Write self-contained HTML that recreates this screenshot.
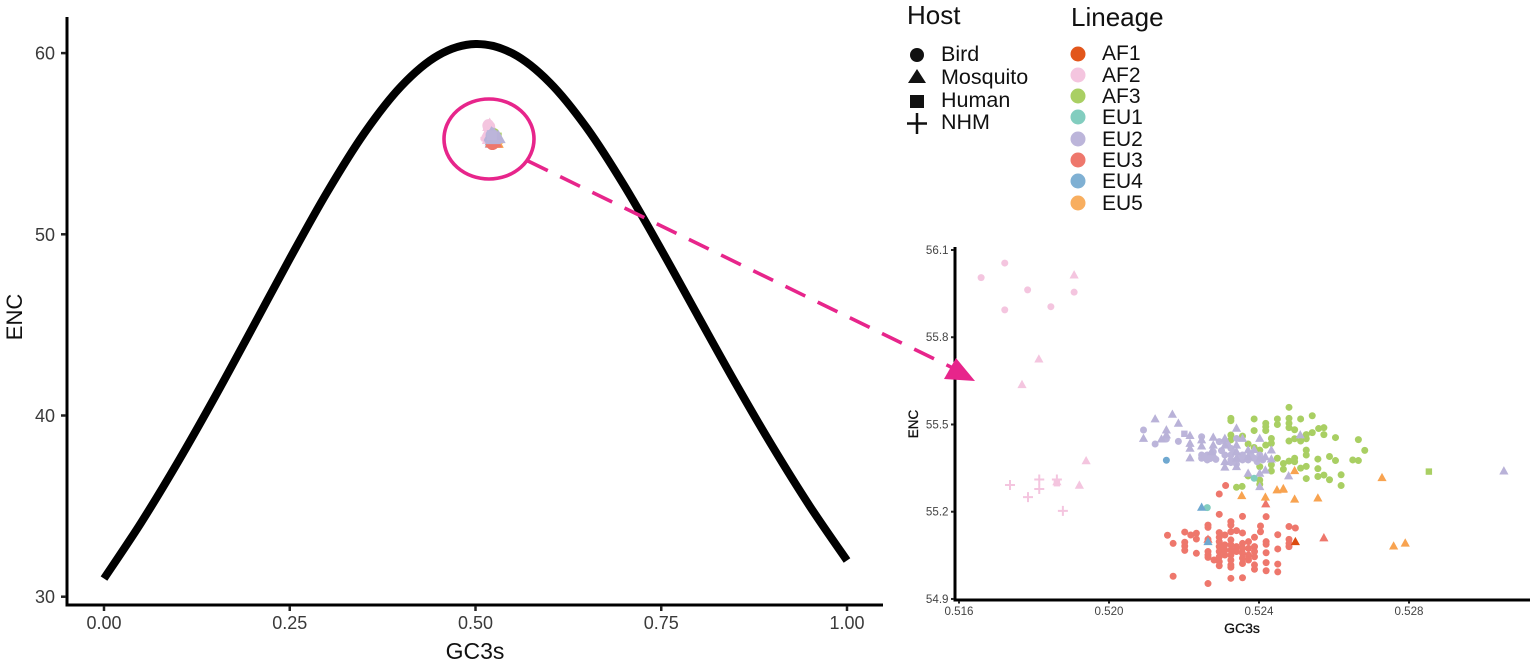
<!DOCTYPE html>
<html lang="en">
<head>
<meta charset="utf-8">
<title>ENC vs GC3s</title>
<style>
html,body{margin:0;padding:0;background:#fff;width:1535px;height:666px;overflow:hidden}
svg{display:block;font-family:"Liberation Sans",sans-serif}
</style>
</head>
<body>
<svg id="chart" width="1535" height="666" viewBox="0 0 1535 666" xmlns="http://www.w3.org/2000/svg">
  <rect width="1535" height="666" fill="#fff"/>
  <g id="main-plot"></g>
  <g id="inset-plot"></g>

  <g>
    <ellipse cx="489" cy="139" rx="45" ry="40" fill="none" stroke="#E7258B" stroke-width="3.6"/>
    <line x1="528" y1="161" x2="955" y2="369" stroke="#E7258B" stroke-width="3.6" stroke-dasharray="22 13.8"/>
    <polygon points="956,358 975,381 944,379" fill="#E7258B"/>
  </g>

  <g fill="#111">
    <text x="907" y="24" font-size="26">Host</text>
    <circle cx="917" cy="55" r="7"/>
    <polygon points="917,69 926,83 908,83"/>
    <rect x="910" y="95" width="14" height="13"/>
    <path d="M907 123.500H927M917 113V134" stroke="#111" stroke-width="2.500" fill="none"/>
    <text x="941" y="61" font-size="21.500">Bird</text>
    <text x="941" y="84" font-size="21.500">Mosquito</text>
    <text x="941" y="107" font-size="21.500">Human</text>
    <text x="941" y="129" font-size="21.500">NHM</text>
  </g>

  <g fill="#111" font-size="21">
    <text x="1071" y="26" font-size="26">Lineage</text>
    <circle cx="1078" cy="54" r="7.500" fill="#E2561B"/>
    <circle cx="1078" cy="75" r="7.500" fill="#F4C5DF"/>
    <circle cx="1078" cy="96" r="7.500" fill="#A9CF63"/>
    <circle cx="1078" cy="117" r="7.500" fill="#82CDBF"/>
    <circle cx="1078" cy="139" r="7.500" fill="#BCB5DA"/>
    <circle cx="1078" cy="160" r="7.500" fill="#EE776C"/>
    <circle cx="1078" cy="181" r="7.500" fill="#7FB0D3"/>
    <circle cx="1078" cy="203" r="7.500" fill="#F8AE5F"/>
    <text x="1102" y="60">AF1</text>
    <text x="1102" y="82">AF2</text>
    <text x="1102" y="103">AF3</text>
    <text x="1102" y="124">EU1</text>
    <text x="1102" y="146">EU2</text>
    <text x="1102" y="167">EU3</text>
    <text x="1102" y="188">EU4</text>
    <text x="1102" y="210">EU5</text>
  </g>
</svg>

<script>
// Main curve values
const curveGc3 = [0,0.05,0.10,0.15,0.20,0.25,0.30,0.35,0.40,0.45,0.50,0.55,0.60,0.65,0.70,0.75,0.80,0.85,0.90,0.95,1.00];
const curveEnc = [31,34.09,37.47,41.08,44.85,48.65,52.30,55.56,58.17,59.88,60.50,59.98,58.37,55.86,52.70,49.15,45.45,41.78,38.27,34.99,32];

// Tick labels
const mainXTicks = [0,0.25,0.5,0.75,1];
const mainYTicks = [30,40,50,60];
const insetXTicks = [0.516,0.520,0.524,0.528];
const insetYTicks = [54.9,55.2,55.5,55.8,56.1];

// Scatter values: [GC3s, ENC]
const af2Bird = [[.51659,56.005],[.51722,56.055],[.51783,55.963],[.51907,55.955],[.51722,55.894],[.51845,55.905]];
const af2Mosquito = [[.51907,56.014],[.51813,55.725],[.51768,55.637],[.51861,55.303],[.51939,55.375],[.51921,55.291]];
const af2Human = [[.51861,55.298]];
const af2Nhm = [[.51736,55.292],[.51814,55.311],[.51814,55.278],[.51784,55.250],[.51861,55.311],[.51877,55.203]];

const eu3Bird = [[.52311,55.290],[.52294,55.261],[.52294,55.191],[.52356,55.184],[.52419,55.183],[.52264,55.154],[.52264,55.146],[.52325,55.166],[.52325,55.154],[.52404,55.151],[.52480,55.149],[.52497,55.144],[.52156,55.119],[.52202,55.130],[.52218,55.120],[.52233,55.126],[.52233,55.106],[.52171,55.091],[.52202,55.095],[.52202,55.082],[.52202,55.067],[.52233,55.057],[.52264,55.105],[.52264,55.063],[.52264,55.051],[.52264,55.043],[.52280,55.034],[.52294,55.128],[.52294,55.112],[.52294,55.097],[.52294,55.080],[.52294,55.063],[.52294,55.045],[.52294,55.028],[.52294,55.014],[.52309,55.120],[.52309,55.086],[.52309,55.068],[.52309,55.051],[.52325,55.131],[.52325,55.103],[.52325,55.086],[.52325,55.068],[.52325,55.051],[.52325,55.034],[.52325,55.017],[.52325,55.009],[.52340,55.135],[.52340,55.080],[.52340,55.063],[.52356,55.127],[.52356,55.091],[.52356,55.074],[.52356,55.057],[.52356,55.040],[.52356,55.022],[.52372,55.097],[.52372,55.074],[.52372,55.051],[.52372,55.034],[.52388,55.112],[.52388,55.080],[.52388,55.063],[.52388,55.045],[.52388,55.017],[.52388,55.002],[.52404,55.131],[.52419,55.097],[.52419,55.088],[.52419,55.059],[.52419,55.025],[.52419,54.997],[.52450,55.121],[.52450,55.072],[.52450,55.020],[.52450,54.993],[.52480,55.105],[.52480,55.091],[.52480,55.080],[.52171,54.978],[.52264,54.953],[.52325,54.971],[.52356,54.973]];
const eu3Mosquito = [[.52573,55.110],[.52418,55.227],[.52264,55.105]];

const af3Bird = [[.52325,55.521],[.52325,55.513],[.52387,55.519],[.52387,55.479],[.52418,55.504],[.52418,55.492],[.52418,55.479],[.52449,55.519],[.52449,55.500],[.52480,55.559],[.52480,55.521],[.52480,55.504],[.52480,55.489],[.52495,55.482],[.52511,55.519],[.52542,55.530],[.52559,55.486],[.52573,55.489],[.52573,55.465],[.52542,55.472],[.52526,55.465],[.52526,55.451],[.52511,55.443],[.52495,55.451],[.52480,55.443],[.52604,55.455],[.52665,55.448],[.52325,55.464],[.52325,55.447],[.52356,55.460],[.52371,55.433],[.52387,55.421],[.52402,55.412],[.52418,55.429],[.52433,55.452],[.52433,55.435],[.52402,55.355],[.52433,55.361],[.52433,55.340],[.52449,55.384],[.52465,55.366],[.52465,55.346],[.52480,55.374],[.52495,55.384],[.52495,55.372],[.52511,55.350],[.52526,55.356],[.52526,55.412],[.52526,55.395],[.52557,55.381],[.52557,55.348],[.52588,55.390],[.52604,55.376],[.52650,55.378],[.52665,55.376],[.52619,55.327],[.52619,55.290],[.52588,55.310],[.52573,55.326],[.52557,55.321],[.52526,55.314],[.52402,55.309],[.52402,55.294],[.52340,55.284],[.52355,55.287],[.52371,55.323],[.52682,55.411]];
const af3Human = [[.52853,55.338]];

const eu5Mosquito = [[.52728,55.317],[.52759,55.082],[.52790,55.092],[.52557,55.247],[.52495,55.243],[.52464,55.277],[.52495,55.341],[.52448,55.275],[.52465,55.279],[.52354,55.255],[.52417,55.250]];

const eu2Bird = [[.52092,55.481],[.52123,55.433],[.52153,55.450],[.52185,55.442],[.52247,55.458],[.52247,55.395],[.52247,55.384],[.52262,55.378],[.52262,55.395],[.52278,55.389],[.52278,55.406],[.52294,55.441],[.52309,55.395],[.52325,55.378],[.52325,55.395],[.52340,55.378],[.52356,55.378],[.52371,55.378],[.52387,55.384],[.52309,55.441],[.52325,55.418],[.52340,55.452],[.52356,55.395],[.52325,55.369],[.52340,55.364],[.52402,55.395],[.52255,55.388],[.52270,55.383],[.52285,55.380],[.52300,55.410],[.52316,55.430],[.52333,55.405],[.52348,55.392],[.52363,55.385],[.52379,55.395],[.52395,55.372],[.52410,55.378]];
const eu2Mosquito = [[.52123,55.519],[.52169,55.535],[.52185,55.504],[.52153,55.481],[.52153,55.464],[.52140,55.450],[.52092,55.452],[.52216,55.462],[.52216,55.435],[.52216,55.418],[.52216,55.385],[.52247,55.447],[.52247,55.426],[.52278,55.456],[.52278,55.429],[.52273,55.406],[.52309,55.452],[.52309,55.429],[.52309,55.372],[.52309,55.353],[.52340,55.487],[.52340,55.429],[.52340,55.406],[.52340,55.384],[.52340,55.355],[.52356,55.452],[.52371,55.412],[.52371,55.389],[.52371,55.332],[.52387,55.414],[.52402,55.452],[.52402,55.384],[.52402,55.332],[.52402,55.286],[.52417,55.389],[.52417,55.343],[.52433,55.412],[.52433,55.381],[.52479,55.323],[.52510,55.464],[.53053,55.340]];
const eu2Human = [[.52201,55.468]];

const eu1Bird = [[.52387,55.315],[.52262,55.214]];
const eu4Bird = [[.52153,55.377]];
const eu4Mosquito = [[.52247,55.215],[.52264,55.097]];
const af1Mosquito = [[.52497,55.097]];

const NS = 'http://www.w3.org/2000/svg';
function mk(parent, tag, attrs, name, text) {
  const el = document.createElementNS(NS, tag);
  for (const k in attrs) el.setAttribute(k, attrs[k]);
  
  
  if (text !== undefined) el.textContent = text;
  parent.appendChild(el);
  return el;
}

// Series groups, listed by lineage so each plot can choose its own stacking order
const groups = {
  af2: [['af2-bird',af2Bird,'circle','#F4C5DF'],['af2-mosquito',af2Mosquito,'triangle','#F4C5DF'],['af2-human',af2Human,'square','#F4C5DF'],['af2-nhm',af2Nhm,'plus','#F4C5DF']],
  eu3: [['eu3-bird',eu3Bird,'circle','#EE776C'],['eu3-mosquito',eu3Mosquito,'triangle','#EE776C']],
  af3: [['af3-bird',af3Bird,'circle','#A9CF63'],['af3-human',af3Human,'square','#A9CF63']],
  eu5: [['eu5-mosquito',eu5Mosquito,'triangle','#F8A350']],
  eu2: [['eu2-bird',eu2Bird,'circle','#BCB5DA'],['eu2-mosquito',eu2Mosquito,'triangle','#B9B2D8'],['eu2-human',eu2Human,'square','#BCB5DA']],
  eu1: [['eu1-bird',eu1Bird,'circle','#82CDBF']],
  eu4: [['eu4-bird',eu4Bird,'circle','#6FA8D0'],['eu4-mosquito',eu4Mosquito,'triangle','#6FA8D0']],
  af1: [['af1-mosquito',af1Mosquito,'triangle','#DC4B0F']]
};
const mainOrder = ['af2','af1','eu4','eu1','eu5','af3','eu3','eu2'];
const insetOrder = ['af2','eu3','af3','eu5','eu2','eu1','eu4','af1'];

// Axis functions
const mainX = v => 104 + v * 743;
const mainY = v => 596.7 - (v - 30) * 18.12;
const insetX = v => 959 + (v - 0.516) * 37500;
const insetY = v => 250 + (56.1 - v) * 290.8;

function drawSeries(parent, xf, yf, s, order) {
  order.forEach(function (key) {
    groups[key].forEach(function (series) {
      const name = series[0], pts = series[1], shape = series[2], col = series[3];
      pts.forEach(function (p) {
        const x = xf(p[0]), y = yf(p[1]), label = 'point-' + name;
        if (shape === 'circle') {
          mk(parent, 'circle', {cx: x, cy: y, r: s.r, fill: col}, label);
        } else if (shape === 'triangle') {
          mk(parent, 'polygon', {points: [x, y - s.t * 1.05, x + s.t, y + s.t * 0.75, x - s.t, y + s.t * 0.75].join(' '), fill: col}, label);
        } else if (shape === 'square') {
          mk(parent, 'rect', {x: x - s.q, y: y - s.q, width: 2 * s.q, height: 2 * s.q, fill: col}, label);
        } else {
          mk(parent, 'path', {d: 'M' + (x - s.p) + ' ' + y + 'H' + (x + s.p) + 'M' + x + ' ' + (y - s.p) + 'V' + (y + s.p), stroke: col, 'stroke-width': s.w, fill: 'none'}, label);
        }
      });
    });
  });
}

// Main plot
const mainG = document.getElementById('main-plot');
let d = '';
const cp = curveGc3.map((g, i) => [mainX(g), mainY(curveEnc[i])]);
cp.forEach(function (p, i) {
  if (i === 0) { d += 'M' + p[0] + ' ' + p[1]; return; }
  const a = cp[Math.max(0, i - 2)], b = cp[i - 1], c = p, e = cp[Math.min(cp.length - 1, i + 1)];
  d += 'C' + (b[0] + (c[0] - a[0]) / 6) + ' ' + (b[1] + (c[1] - a[1]) / 6) + ' ' + (c[0] - (e[0] - b[0]) / 6) + ' ' + (c[1] - (e[1] - b[1]) / 6) + ' ' + c[0] + ' ' + c[1];
});
mk(mainG, 'path', {d: d, fill: 'none', stroke: '#000', 'stroke-width': 8}, 'enc-curve');
drawSeries(mainG, mainX, mainY, {r: 5.5, t: 7.5, q: 5, p: 8, w: 3}, mainOrder);

mk(mainG, 'line', {x1: 67, y1: 17, x2: 67, y2: 606.5, stroke: '#000', 'stroke-width': 3}, 'main-y-axis');
mk(mainG, 'line', {x1: 65.5, y1: 605, x2: 883, y2: 605, stroke: '#000', 'stroke-width': 3}, 'main-x-axis');
mainXTicks.forEach(function (v) {
  mk(mainG, 'line', {x1: mainX(v), y1: 606, x2: mainX(v), y2: 611, stroke: '#222', 'stroke-width': 2.5}, 'main-x-tick');
  mk(mainG, 'text', {x: mainX(v), y: 629, 'font-size': 18, 'text-anchor': 'middle', fill: '#3a3a3a'}, 'main-x-tick-label', v.toFixed(2));
});
mainYTicks.forEach(function (v) {
  mk(mainG, 'line', {x1: 61, y1: mainY(v), x2: 66, y2: mainY(v), stroke: '#222', 'stroke-width': 2.5}, 'main-y-tick');
  mk(mainG, 'text', {x: 55, y: mainY(v) + 6.5, 'font-size': 18, 'text-anchor': 'end', fill: '#3a3a3a'}, 'main-y-tick-label', String(v));
});
mk(mainG, 'text', {x: 475, y: 659, 'font-size': 23, 'text-anchor': 'middle', fill: '#111'}, 'main-x-axis-title', 'GC3s');
mk(mainG, 'text', {x: 0, y: 0, 'font-size': 22, 'text-anchor': 'middle', fill: '#111', transform: 'translate(22 317) rotate(-90)'}, 'main-y-axis-title', 'ENC');

// Inset plot
const insetG = document.getElementById('inset-plot');
drawSeries(insetG, insetX, insetY, {r: 3.5, t: 4.6, q: 3.2, p: 5, w: 2}, insetOrder);
mk(insetG, 'line', {x1: 955, y1: 247, x2: 955, y2: 601.5, stroke: '#000', 'stroke-width': 3}, 'inset-y-axis');
mk(insetG, 'line', {x1: 953.5, y1: 600, x2: 1530, y2: 600, stroke: '#000', 'stroke-width': 3}, 'inset-x-axis');
insetXTicks.forEach(function (v) {
  mk(insetG, 'line', {x1: insetX(v), y1: 601, x2: insetX(v), y2: 603.5, stroke: '#222', 'stroke-width': 2}, 'inset-x-tick');
  mk(insetG, 'text', {x: insetX(v), y: 615, 'font-size': 11.6, 'text-anchor': 'middle', fill: '#444'}, 'inset-x-tick-label', v.toFixed(3));
});
insetYTicks.forEach(function (v) {
  mk(insetG, 'line', {x1: 951, y1: insetY(v), x2: 954, y2: insetY(v), stroke: '#222', 'stroke-width': 2}, 'inset-y-tick');
  mk(insetG, 'text', {x: 948.5, y: insetY(v) + 4, 'font-size': 11.6, 'text-anchor': 'end', fill: '#444'}, 'inset-y-tick-label', v.toFixed(1));
});
mk(insetG, 'text', {x: 1242, y: 633, 'font-size': 14, 'text-anchor': 'middle', fill: '#111', stroke: '#111', 'stroke-width': 0.3}, 'inset-x-axis-title', 'GC3s');
mk(insetG, 'text', {x: 0, y: 0, 'font-size': 13.5, 'text-anchor': 'middle', fill: '#111', stroke: '#111', 'stroke-width': 0.3, transform: 'translate(918 424) rotate(-90)'}, 'inset-y-axis-title', 'ENC');
</script>
</body>
</html>
